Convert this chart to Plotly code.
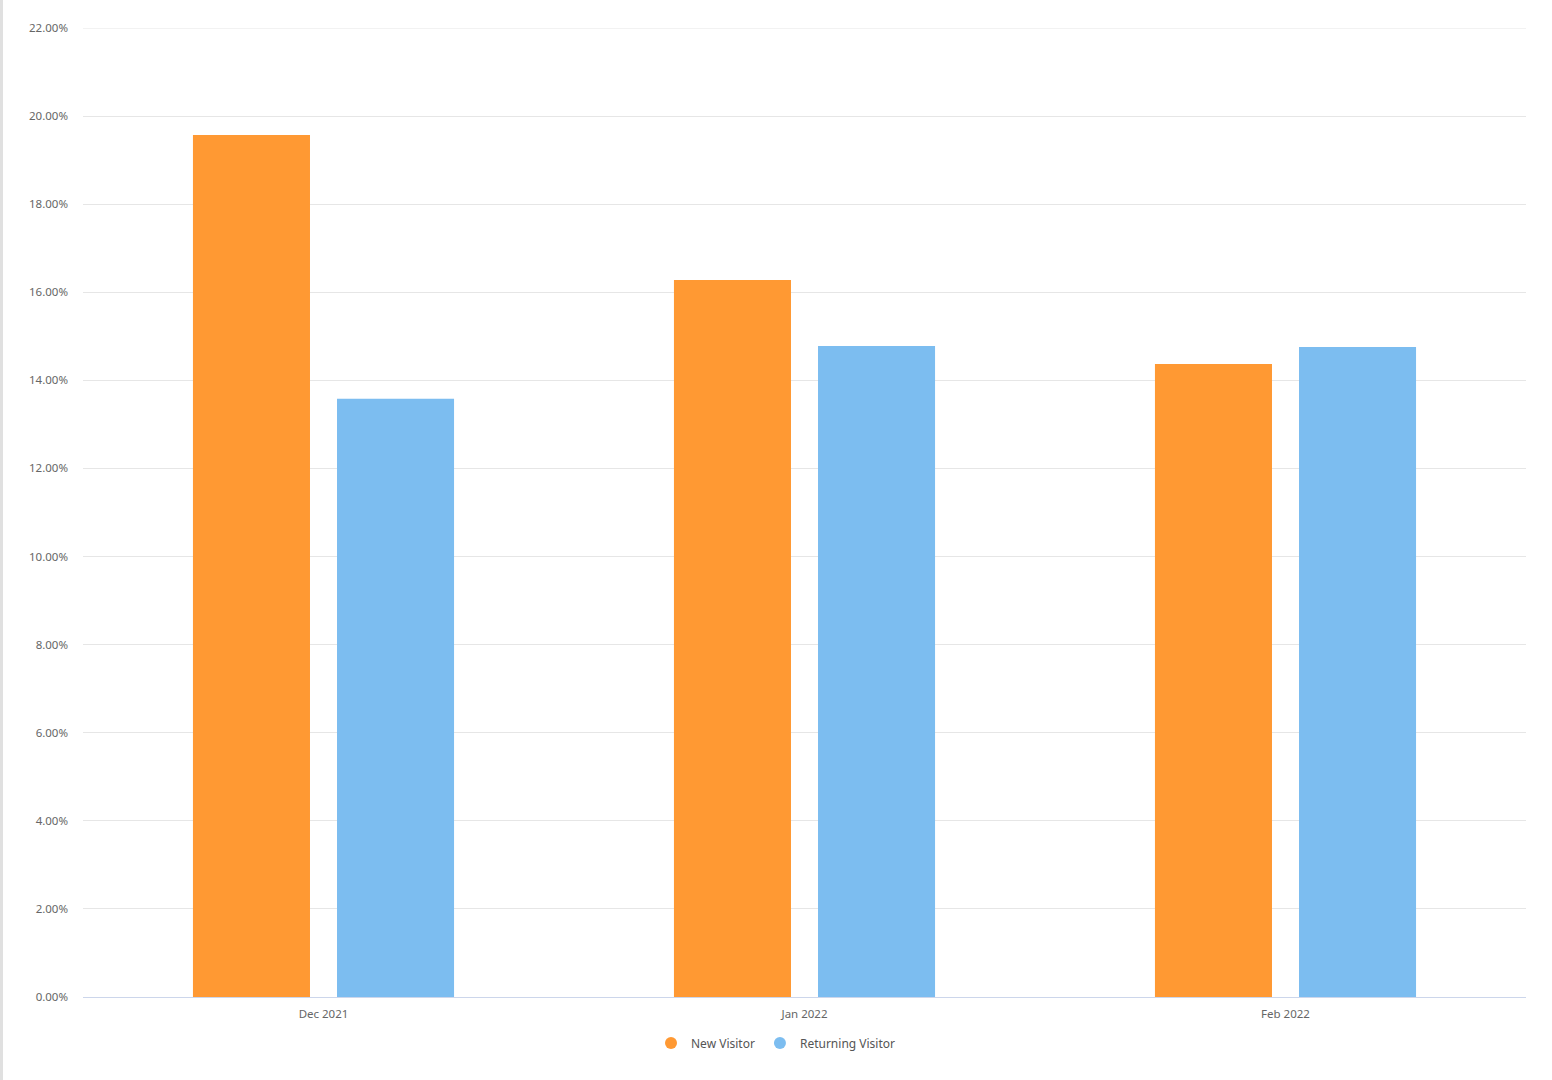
import plotly.graph_objects as go

categories = ["Dec 2021", "Jan 2022", "Feb 2022"]
new_visitor = [19.57, 16.28, 14.37]
returning_visitor = [13.58, 14.78, 14.76]
series_names = ["New Visitor", "Returning Visitor"]
colors = ["#FF9933", "#7CBDF0"]
y_max = 22

fig = go.Figure()
for name, vals, col in zip(series_names, [new_visitor, returning_visitor], colors):
    fig.add_trace(go.Bar(x=categories, y=vals, name=name, marker=dict(color=col, line=dict(width=0)),
                         showlegend=False))
for name, col in zip(series_names, colors):
    fig.add_trace(go.Scatter(x=[None], y=[None], mode="markers", name=name,
                             marker=dict(symbol="circle", size=12, color=col)))

fig.update_layout(
    width=1552, height=1080,
    paper_bgcolor="white", plot_bgcolor="white",
    margin=dict(l=83, r=26, t=28, b=83, autoexpand=False),
    barmode="group", bargap=0.401, bargroupgap=0.1875,
    font=dict(family="Noto Sans, Open Sans, sans-serif", size=11.5, color="#666666"),
    legend=dict(orientation="h", xref="container", yref="container", x=0.5, xanchor="center",
                y=0.0343, yanchor="middle", font=dict(size=12, color="#555555"),
                itemsizing="constant", tracegroupgap=0),
    xaxis=dict(showgrid=False, showline=True, linecolor="#CCD6EB", linewidth=1, ticks="",
               ticklabelstandoff=6, tickfont=dict(size=11.5, color="#666666"), fixedrange=True),
    yaxis=dict(range=[0, y_max], dtick=2, tickformat=".2f", ticksuffix="%", showgrid=True,
               gridcolor="#E6E6E6", gridwidth=1, zeroline=False, showline=False,
               ticklabelstandoff=14, tickfont=dict(size=11.5, color="#666666")),
    shapes=[dict(type="rect", xref="paper", yref="paper", x0=-83/1443, x1=-80/1443, y0=-83/969, y1=1+28/969,
                 fillcolor="#E0E0E0", line=dict(width=0), layer="below"),
            dict(type="line", xref="paper", yref="y", x0=0, x1=1, y0=y_max, y1=y_max,
                 line=dict(color="#E6E6E6", width=1), layer="below")],
)
fig.write_html("out.html", config={"displayModeBar": False},
               post_script="document.body.style.margin='0';document.body.style.overflow='hidden';")
